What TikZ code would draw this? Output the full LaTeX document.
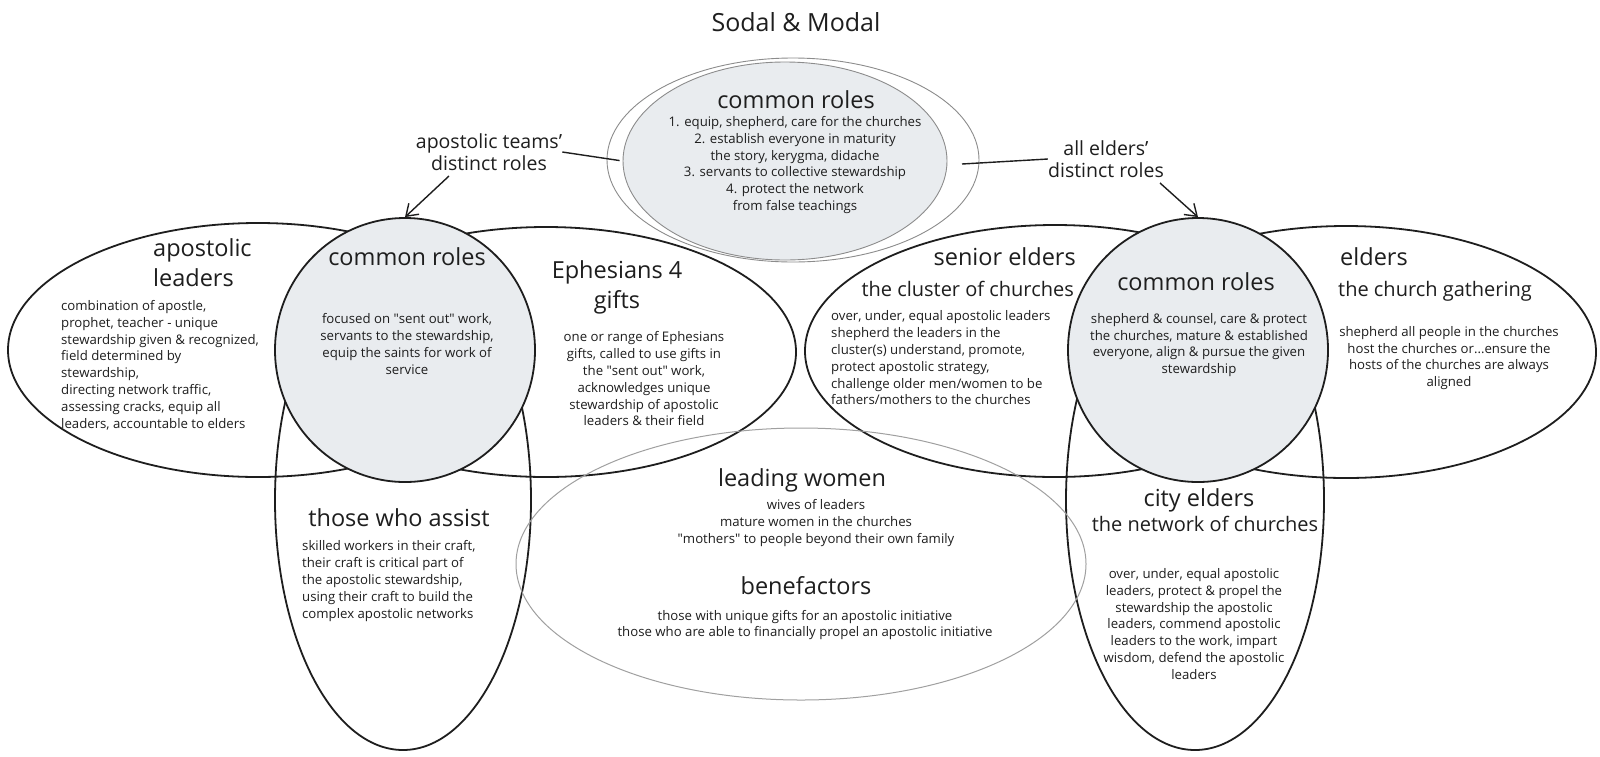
\documentclass[tikz,border=0pt]{standalone}
\usepackage{fontspec}
\setmainfont{Open Sans}
\usetikzlibrary{shapes.geometric,arrows.meta,calc}
\definecolor{ink}{HTML}{1E1E1E}
\definecolor{fillgray}{HTML}{E9ECEF}
\definecolor{thinline}{HTML}{8C8C8C}
\definecolor{womenline}{HTML}{A0A0A0}
\newcommand{\dq}{\textquotedbl}
\begin{document}
\begin{tikzpicture}[x=1pt,y=-1pt,
  blob/.style={shape=ellipse, draw=ink, line width=1.8pt, inner sep=0pt},
  core/.style={blob, fill=fillgray},
  thinblob/.style={shape=ellipse, draw=thinline, line width=0.9pt, inner sep=0pt},
  ttl/.style={font=\fontsize{25}{30}\selectfont, inner sep=0pt, text=ink},
  hd/.style={font=\fontsize{23.5}{30}\selectfont, inner sep=0pt, text=ink},
  sub/.style={font=\fontsize{20}{24}\selectfont, inner sep=0pt, text=ink},
  lbl/.style={font=\fontsize{19.5}{22}\selectfont, inner sep=0pt, align=center, text=ink},
  bd/.style={font=\fontsize{13.2}{16.8}\selectfont, inner sep=0pt, align=center, text=ink},
  bdl/.style={bd, align=left},
  conn/.style={draw=ink, line width=1.4pt},
  arr/.style={conn, -{Straight Barb[length=11pt,width=15pt,line width=1.4pt]}}
]
\fill[white] (0,0) rectangle (1600,756);
\useasboundingbox (0,0) rectangle (1600,756);

% ---------- title ----------
\node[ttl] (title) at (796,22) {Sodal \& Modal};

% ---------- top group ----------
\node[thinblob, minimum width=372pt, minimum height=204pt] (topOuter) at (793,160) {};
\node[thinblob, fill=fillgray, minimum width=324pt, minimum height=198pt] (topInner) at (785,161) {};
\node[hd] (topHead) at (796,100) {common roles};
\node[bd] (topBody) at (795,165) {1. equip, shepherd, care for the churches\\2. establish everyone in maturity\\the story, kerygma, didache\\3. servants to collective stewardship\\4. protect the network\\from false teachings};

% ---------- unfilled outer shapes ----------
\node[blob, minimum width=500pt, minimum height=254pt] (leftEll) at (258,350) {};
\node[blob, minimum width=500pt, minimum height=250pt] (ephEll) at (546,352) {};
\node[blob, minimum width=256pt, minimum height=500pt] (assistEll) at (403,500) {};
\node[blob, minimum width=500pt, minimum height=252pt] (seniorEll) at (1055,351) {};
\node[blob, minimum width=500pt, minimum height=252pt] (eldersEll) at (1346,352) {};
\node[blob, minimum width=258pt, minimum height=500pt] (cityEll) at (1195,500) {};
\node[shape=ellipse, draw=womenline, line width=1pt, inner sep=0pt, minimum width=570pt, minimum height=272pt] (womenEll) at (801,564) {};

% ---------- filled common-role circles ----------
\node[core, minimum width=260pt, minimum height=264pt] (leftCirc) at (405,350) {};
\node[core, minimum width=260pt, minimum height=264pt] (rightCirc) at (1198,350) {};

% ---------- connector labels ----------
\node[lbl] (lblL) at (489,152) {apostolic teams'\\distinct roles};
\node[lbl] (lblR) at (1106,159) {all elders'\\distinct roles};
\coordinate (rEnd) at (962,164);
\draw[conn, shorten >=3pt] (lblL.east) -- (topInner.west);
\draw[conn] (lblR.west) -- (rEnd);
\coordinate (aLs) at (449,176);
\coordinate (aRs) at (1160,183);
\draw[arr] (aLs) -- (leftCirc.north);
\draw[arr] (aRs) -- (rightCirc.north);

% ---------- left group texts ----------
\node[hd, align=left, anchor=west] (apHead) at (153,263) {apostolic\\leaders};
\node[bdl, anchor=west] (apBody) at (61,365) {combination of apostle,\\prophet, teacher - unique\\stewardship given \& recognized,\\field determined by\\stewardship,\\directing network traffic,\\assessing cracks, equip all\\leaders, accountable to elders};
\node[hd] (lcHead) at (407,257) {common roles};
\node[bd] (lcBody) at (407,344) {focused on \dq sent out\dq{} work,\\servants to the stewardship,\\equip the saints for work of\\service};
\node[hd, align=center] (ephHead) at (617,287) {Ephesians 4\\gifts};
\node[bd] (ephBody) at (644,379) {one or range of Ephesians\\gifts, called to use gifts in\\the \dq sent out\dq{} work,\\acknowledges unique\\stewardship of apostolic\\leaders \& their field};
\node[hd] (asHead) at (399,518) {those who assist};
\node[bdl, anchor=west] (asBody) at (302,581) {skilled workers in their craft,\\their craft is critical part of\\the apostolic stewardship,\\using their craft to build the\\complex apostolic networks};

% ---------- middle bottom texts ----------
\node[hd] (lwHead) at (802,480) {leading women};
\node[bd] (lwBody) at (816,523) {wives of leaders\\mature women in the churches\\\dq mothers\dq{} to people beyond their own family};
\node[hd] (bfHead) at (806,586) {benefactors};
\node[bd] (bfBody) at (805,625) {those with unique gifts for an apostolic initiative\\those who are able to financially propel an apostolic initiative};

% ---------- right group texts ----------
\node[hd, anchor=east] (seHead) at (1076,257) {senior elders};
\node[sub, anchor=east] (seSub) at (1074,289) {the cluster of churches};
\node[bdl, anchor=west] (seBody) at (831,358) {over, under, equal apostolic leaders\\shepherd the leaders in the\\cluster(s) understand, promote,\\protect apostolic strategy,\\challenge older men/women to be\\fathers/mothers to the churches};
\node[hd] (rcHead) at (1196,282) {common roles};
\node[bd] (rcBody) at (1199,345) {shepherd \& counsel, care \& protect\\the churches, mature \& established\\everyone, align \& pursue the given\\stewardship};
\node[hd, anchor=west] (elHead) at (1340,257) {elders};
\node[sub, anchor=west] (elSub) at (1338,291) {the church gathering};
\node[bd] (elBody) at (1449,358) {shepherd all people in the churches\\host the churches or...ensure the\\hosts of the churches are always\\aligned};
\node[hd] (ceHead) at (1199,500) {city elders};
\node[sub] (ceSub) at (1205,524) {the network of churches};
\node[bd] (ceBody) at (1194,624) {over, under, equal apostolic\\leaders, protect \& propel the\\stewardship the apostolic\\leaders, commend apostolic\\leaders to the work, impart\\wisdom, defend the apostolic\\leaders};
\end{tikzpicture}
\end{document}
